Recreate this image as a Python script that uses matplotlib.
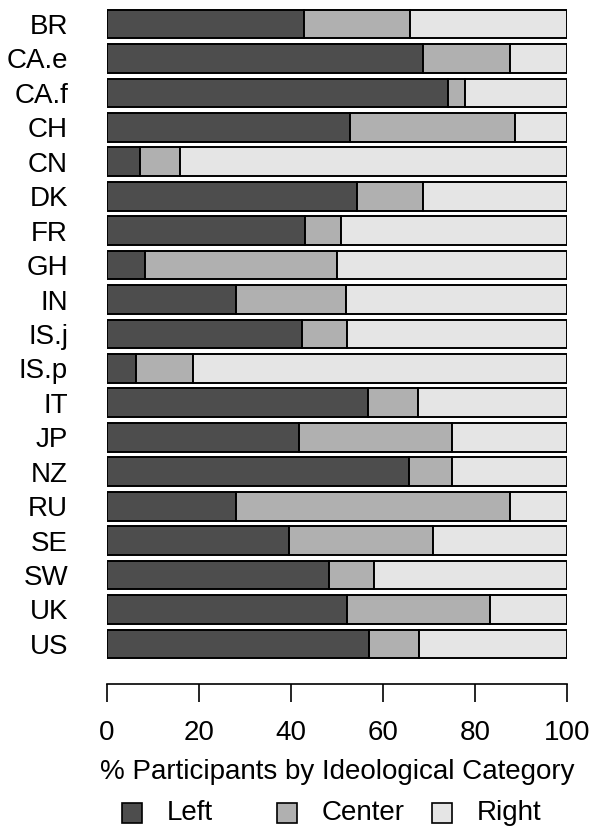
import numpy as np
import matplotlib
matplotlib.use("Agg")
import matplotlib.pyplot as plt
from matplotlib.patches import Rectangle

plt.rcParams['font.family'] = ['Liberation Sans', 'DejaVu Sans']

countries = ['BR', 'CA.e', 'CA.f', 'CH', 'CN', 'DK', 'FR', 'GH', 'IN', 'IS.j',
             'IS.p', 'IT', 'JP', 'NZ', 'RU', 'SE', 'SW', 'UK', 'US']
left = [42.9, 68.8, 74.1, 52.8, 7.1, 54.3, 43.1, 8.3, 28.0, 42.3,
        6.2, 56.8, 41.7, 65.6, 28.0, 39.6, 48.3, 52.1, 57.0]
center = [22.9, 18.8, 3.7, 36.0, 8.8, 14.3, 7.8, 41.7, 24.0, 9.9,
          12.5, 10.8, 33.2, 9.3, 59.5, 31.2, 9.8, 31.2, 10.9]
right = [100 - l - c for l, c in zip(left, center)]
categories = ['Left', 'Center', 'Right']
colors = ['#4d4d4d', '#b0b0b0', '#e5e5e5']

W, H = 595, 833
fs = 20
fig = plt.figure(figsize=(W / 100, H / 100), dpi=100)
# axes in pixel coords: x 107..567, y top 0 .. bottom 684
ax = fig.add_axes([107 / W, 1 - 684 / H, 460 / W, 684 / H])

pos = np.arange(len(countries))
h = 0.833
lw = 1.4
ax.barh(pos, left, height=h, color=colors[0], edgecolor='black', linewidth=lw)
ax.barh(pos, center, left=left, height=h, color=colors[1], edgecolor='black', linewidth=lw)
ax.barh(pos, right, left=np.array(left) + np.array(center), height=h,
        color=colors[2], edgecolor='black', linewidth=lw)

pitch = 34.44
ax.set_ylim((684 - 24) / pitch, -24 / pitch)
ax.set_xlim(0, 100)

ax.set_yticks(pos)
ax.set_yticklabels(countries, fontsize=fs)
ax.tick_params(axis='y', length=0, pad=28)

for s in ['top', 'right', 'left']:
    ax.spines[s].set_visible(False)
ax.spines['bottom'].set_bounds(0, 100)
ax.spines['bottom'].set_linewidth(1.2)
ax.set_xticks([0, 20, 40, 60, 80, 100])
ax.tick_params(axis='x', length=13, width=1.2, labelsize=fs, pad=13)
ax.set_xlabel('% Participants by Ideological Category', fontsize=fs, labelpad=9)

# legend drawn by hand to match base-R spacing
sq = 20
for i, (lab, c) in enumerate(zip(categories, colors)):
    cx = 132 + i * 155
    cy = 813
    fig.patches.append(Rectangle(((cx - sq / 2) / W, 1 - (cy + sq / 2) / H), sq / W, sq / H,
                                 transform=fig.transFigure, facecolor=c,
                                 edgecolor='black', linewidth=1.2))
    fig.text((cx + 35) / W, 1 - cy / H, lab, fontsize=fs, ha='left', va='center')

fig.savefig('out.png', dpi=100)
